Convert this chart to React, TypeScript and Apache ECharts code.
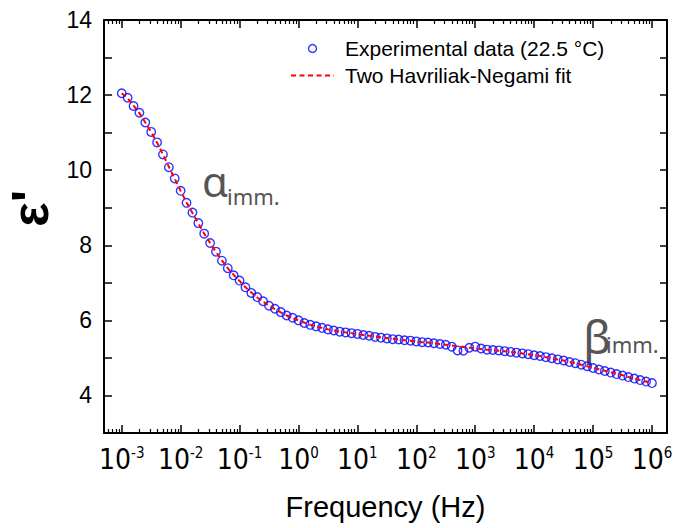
import React, { useEffect, useRef } from "react";
import * as echarts from "echarts";

// Frequency grid: 10 points per decade, 1e-3 ... 1e6 Hz
const decades = [-3, -2, -1, 0, 1, 2, 3, 4, 5];
const mantissas = [1, 1.259, 1.585, 1.995, 2.512, 3.162, 3.981, 5.012, 6.31, 7.943];

// Experimental ε' values (22.5 °C)
const epsExp = [
  12.05, 11.93, 11.71, 11.53, 11.27, 11.02, 10.74, 10.42, 10.08, 9.78,
  9.45, 9.13, 8.87, 8.59, 8.31, 8.06, 7.83, 7.59, 7.39, 7.2,
  7.06, 6.88, 6.73, 6.62, 6.51, 6.39, 6.31, 6.22, 6.13, 6.07,
  6.0, 5.93, 5.88, 5.84, 5.8, 5.76, 5.73, 5.7, 5.68, 5.66,
  5.64, 5.61, 5.59, 5.56, 5.54, 5.52, 5.5, 5.49, 5.47, 5.46,
  5.44, 5.42, 5.41, 5.39, 5.37, 5.35, 5.3, 5.2, 5.19, 5.27,
  5.3, 5.25, 5.22, 5.21, 5.2, 5.18, 5.16, 5.14, 5.12, 5.1,
  5.07, 5.05, 5.02, 4.99, 4.96, 4.93, 4.89, 4.86, 4.82, 4.78,
  4.73, 4.69, 4.65, 4.61, 4.57, 4.53, 4.49, 4.45, 4.41, 4.37,
  4.33,
];

// Two Havriliak-Negami fit
const epsFit = [
  12.05, 11.92, 11.72, 11.52, 11.27, 11.01, 10.73, 10.42, 10.09, 9.77,
  9.45, 9.14, 8.86, 8.58, 8.31, 8.06, 7.82, 7.6, 7.39, 7.21,
  7.05, 6.88, 6.74, 6.61, 6.5, 6.39, 6.3, 6.21, 6.13, 6.06,
  6.0, 5.94, 5.88, 5.84, 5.8, 5.76, 5.73, 5.7, 5.68, 5.66,
  5.63, 5.61, 5.59, 5.57, 5.55, 5.53, 5.51, 5.49, 5.47, 5.46,
  5.44, 5.42, 5.41, 5.39, 5.37, 5.35, 5.33, 5.31, 5.29, 5.27,
  5.26, 5.24, 5.22, 5.21, 5.19, 5.18, 5.16, 5.14, 5.12, 5.1,
  5.07, 5.05, 5.02, 4.99, 4.96, 4.93, 4.89, 4.86, 4.82, 4.78,
  4.74, 4.7, 4.66, 4.62, 4.58, 4.54, 4.49, 4.45, 4.41, 4.37,
  4.33,
];

const xMajorTicks = [1e-3, 1e-2, 1e-1, 1, 1e1, 1e2, 1e3, 1e4, 1e5, 1e6];
const minorDigits = [2, 3, 4, 5, 6, 7, 8, 9];
const xMin = 0.0005;
const xMax = 1.8e6;

const freqs: number[] = [];
decades.forEach((d) => mantissas.forEach((m) => freqs.push(m * Math.pow(10, d))));
freqs.push(1e6);

const xMinorTicks: number[] = [];
[-4, ...decades, 6].forEach((d) =>
  minorDigits.forEach((m) => {
    const v = m * Math.pow(10, d);
    if (v > xMin && v < xMax) xMinorTicks.push(v);
  })
);

const SANS = "'Liberation Sans', Arial, sans-serif";
const NARROW = "'Liberation Sans Narrow', 'DejaVu Sans Condensed', 'Liberation Sans', sans-serif";
const GREEK = "'Noto Sans', sans-serif";

export default function App() {
  const ref = useRef<HTMLDivElement>(null);
  useEffect(() => {
    document.body.style.margin = "0";
    const chart = echarts.init(ref.current!, null, { renderer: "svg" });
    const axisLineStyle = { color: "#000", width: 2 };
    const baseX = {
      type: "log" as const,
      logBase: 10,
      min: xMin,
      max: xMax,
      splitLine: { show: false },
      axisLine: { show: true, onZero: false, lineStyle: axisLineStyle },
    };
    const fitLine = { color: "#ff0000", width: 2, type: [5, 3.5] };
    const option: any = {
      animation: false,
      textStyle: { fontFamily: SANS },
      grid: {
        left: 104,
        right: 25,
        top: 20,
        bottom: 95,
        containLabel: false,
        outerBoundsMode: "none",
      },
      legend: {
        orient: "vertical",
        left: 285,
        top: 33,
        itemWidth: 43,
        itemHeight: 8,
        itemGap: 6,
        textStyle: { fontSize: 21, color: "#000", fontFamily: SANS, padding: [0, 0, 0, 6] },
        data: [
          {
            name: "Experimental data (22.5 °C)",
            icon: "circle",
            itemStyle: { color: "rgba(255,255,255,0)", borderColor: "#0000ff", borderWidth: 1.4 },
          },
          {
            name: "Two Havriliak-Negami fit",
            itemStyle: { opacity: 0 },
            lineStyle: fitLine,
          },
        ],
      },
      xAxis: [
        {
          ...baseX,
          position: "bottom",
          name: "Frequency (Hz)",
          nameLocation: "middle",
          nameGap: 59,
          nameTextStyle: { fontSize: 29, color: "#000", fontFamily: SANS },
          axisTick: { show: true, inside: true, length: 8, lineStyle: { color: "#000", width: 1.5 }, customValues: xMajorTicks },
          axisLabel: {
            show: true,
            margin: 12,
            customValues: xMajorTicks,
            formatter: (v: number) => `{b|10}{s|${Math.round(Math.log10(v))}}`,
            rich: {
              b: { fontSize: 28, fontFamily: NARROW, color: "#000" },
              s: { fontSize: 15, fontFamily: NARROW, color: "#000", verticalAlign: "top", lineHeight: 14 },
            },
          },
        },
        {
          ...baseX,
          position: "bottom",
          axisLine: { show: false },
          axisTick: { show: true, inside: true, length: 4, lineStyle: { color: "#000", width: 1.2 }, customValues: xMinorTicks },
          axisLabel: { show: false },
        },
        {
          ...baseX,
          position: "top",
          axisTick: { show: true, inside: true, length: 8, lineStyle: { color: "#000", width: 1.5 }, customValues: xMajorTicks },
          axisLabel: { show: false },
        },
        {
          ...baseX,
          position: "top",
          axisLine: { show: false },
          axisTick: { show: true, inside: true, length: 4, lineStyle: { color: "#000", width: 1.2 }, customValues: xMinorTicks },
          axisLabel: { show: false },
        },
      ],
      yAxis: [
        {
          type: "value",
          position: "left",
          min: 3,
          max: 14,
          interval: 1,
          splitLine: { show: false },
          axisLine: { show: true, onZero: false, lineStyle: axisLineStyle },
          axisTick: { show: true, inside: true, length: 8, lineStyle: { color: "#000", width: 1.5 } },
          axisLabel: {
            margin: 12,
            fontSize: 23,
            color: "#000",
            fontFamily: SANS,
            formatter: (v: number) => (v % 2 === 0 ? String(v) : ""),
          },
          name: "ε'",
          nameLocation: "middle",
          nameRotate: 90,
          nameGap: 42,
          nameTextStyle: { fontSize: 52, fontWeight: "bold", color: "#000", fontFamily: SANS, padding: [0, 0, 0, 36] },
        },
        {
          type: "value",
          position: "right",
          min: 3,
          max: 14,
          interval: 1,
          splitLine: { show: false },
          axisLine: { show: true, onZero: false, lineStyle: axisLineStyle },
          axisTick: { show: true, inside: true, length: 7, lineStyle: { color: "#000", width: 1.5 } },
          axisLabel: { show: false },
        },
      ],
      series: [
        {
          name: "Experimental data (22.5 °C)",
          type: "scatter",
          xAxisIndex: 0,
          yAxisIndex: 0,
          symbol: "circle",
          symbolSize: 8.5,
          itemStyle: { color: "rgba(255,255,255,0)", borderColor: "#0000ff", borderWidth: 1.4 },
          data: freqs.map((f, i) => [f, epsExp[i]]),
          z: 2,
        },
        {
          name: "Two Havriliak-Negami fit",
          type: "line",
          xAxisIndex: 0,
          yAxisIndex: 0,
          symbol: "none",
          showSymbol: false,
          lineStyle: fitLine,
          itemStyle: { color: "#ff0000" },
          data: freqs.map((f, i) => [f, epsFit[i]]),
          z: 3,
        },
      ],
      graphic: [
        { type: "text", x: 202, y: 180, style: { text: "α", fontSize: 42, fontFamily: GREEK, fill: "#555", verticalAlign: "middle" } },
        { type: "text", x: 227, y: 196, style: { text: "imm.", fontSize: 22, fontFamily: GREEK, fill: "#555", verticalAlign: "middle" } },
        { type: "text", x: 583, y: 336, style: { text: "β", fontSize: 46, fontFamily: GREEK, fill: "#555", verticalAlign: "middle" } },
        { type: "text", x: 606, y: 344, style: { text: "imm.", fontSize: 22, fontFamily: GREEK, fill: "#555", verticalAlign: "middle" } },
      ],
    };
    chart.setOption(option);
    return () => chart.dispose();
  }, []);
  return <div ref={ref} style={{ width: 692, height: 528 }} />;
}
